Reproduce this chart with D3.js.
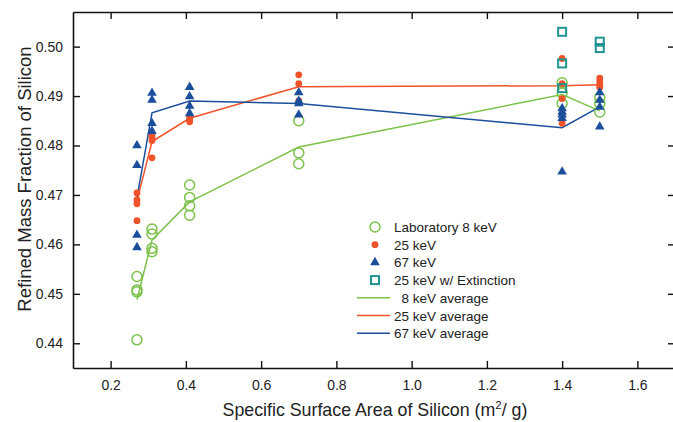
<!DOCTYPE html>
<html>
<head>
<meta charset="utf-8">
<script src="https://cdn.jsdelivr.net/npm/d3@7"></script>
<style>
  body { margin: 0; background: #fff; }
  svg { display: block; font-family: "Liberation Sans", Arial, sans-serif; }
</style>
</head>
<body>
<div id="chart"></div>
<script>
// surface areas (m2/g) of the sample groups
const areas = [0.27, 0.31, 0.41, 0.70, 1.40, 1.50];

// refined values at each area
const lab8 = [
    [0.4535, 0.4508, 0.4504, 0.4407],
    [0.4631, 0.4621, 0.4592, 0.4585],
    [0.4720, 0.4695, 0.4678, 0.4659],
    [0.4850, 0.4785, 0.4763],
    [0.4927, 0.4906, 0.4885],
    [0.4897, 0.4885, 0.4868]
];
const kev25 = [
    [0.4704, 0.4690, 0.4682, 0.4648],
    [0.4820, 0.4815, 0.4810, 0.4775],
    [0.4858, 0.4853, 0.4848],
    [0.4943, 0.4925, 0.4890],
    [0.4976, 0.4925, 0.4895, 0.4845],
    [0.4936, 0.4929, 0.4922, 0.4918]
];
const kev67 = [
    [0.4800, 0.4760, 0.4619, 0.4594],
    [0.4906, 0.4892, 0.4845, 0.4829],
    [0.4918, 0.4899, 0.4880, 0.4865],
    [0.4907, 0.4890, 0.4885, 0.4862],
    [0.4875, 0.4868, 0.4862, 0.4855, 0.4747],
    [0.4907, 0.4892, 0.4878, 0.4838]
];
const ext25 = [
    [], [], [], [],
    [0.5030, 0.4966, 0.4916],
    [0.5010, 0.4997]
];

const avg8 = [0.4488, 0.4609, 0.4686, 0.4797, 0.4903, 0.4870];
const avg25 = [0.4688, 0.4808, 0.4855, 0.4919, 0.4921, 0.4923];
const avg67 = [0.4694, 0.4866, 0.4890, 0.4885, 0.4836, 0.4878];

const xTicks = [0.2, 0.4, 0.6, 0.8, 1.0, 1.2, 1.4, 1.6];
const yTicks = [0.44, 0.45, 0.46, 0.47, 0.48, 0.49, 0.50];

const green = '#7cc24a', red = '#f0522a', blue = '#1b4f9c', teal = '#1f9490';

function flatten(groups) {
    const out = [];
    groups.forEach((g, i) => g.forEach(v => out.push({ x: areas[i], y: v })));
    return out;
}

const width = 673, height = 422;
const margin = { top: 12, right: -2, bottom: 54, left: 73 };

const svg = d3.select('#chart').append('svg')
    .attr('width', width)
    .attr('height', height);

const x = d3.scaleLinear().domain([0.1, 1.7]).range([margin.left, width - margin.right]);
const y = d3.scaleLinear().domain([0.435, 0.507]).range([height - margin.bottom, margin.top]);

// axes with inward ticks on all four sides
const tickFmtX = d3.format('.1f'), tickFmtY = d3.format('.2f');
svg.append('g')
    .attr('transform', `translate(0,${y.range()[0]})`)
    .call(d3.axisBottom(x).tickValues(xTicks).tickSizeInner(-7).tickSizeOuter(0).tickPadding(12).tickFormat(tickFmtX));
svg.append('g')
    .attr('transform', `translate(0,${y.range()[1]})`)
    .call(d3.axisTop(x).tickValues(xTicks).tickSizeInner(-7).tickSizeOuter(0).tickFormat(''));
svg.append('g')
    .attr('transform', `translate(${x.range()[0]},0)`)
    .call(d3.axisLeft(y).tickValues(yTicks).tickSizeInner(-7).tickSizeOuter(0).tickPadding(10).tickFormat(tickFmtY));
svg.append('g')
    .attr('transform', `translate(${x.range()[1]},0)`)
    .call(d3.axisRight(y).tickValues(yTicks).tickSizeInner(-7).tickSizeOuter(0).tickFormat(''));

svg.selectAll('.domain').attr('stroke', '#111').attr('stroke-width', 1.6);
svg.selectAll('.tick line').attr('stroke', '#111').attr('stroke-width', 1.4);
svg.selectAll('.tick text').attr('font-size', 14).attr('fill', '#222')
    .attr('font-family', '"Liberation Sans", Arial, sans-serif');

// average lines
const line = d3.line().x((d, i) => x(areas[i])).y(d => y(d));
[[avg8, green], [avg25, red], [avg67, blue]].forEach(([vals, c]) => {
    svg.append('path').datum(vals)
        .attr('fill', 'none').attr('stroke', c).attr('stroke-width', 1.5)
        .attr('d', line);
});

// markers
svg.append('g').selectAll('circle').data(flatten(lab8)).join('circle')
    .attr('cx', d => x(d.x)).attr('cy', d => y(d.y)).attr('r', 5)
    .attr('fill', 'none').attr('stroke', green).attr('stroke-width', 1.5);

svg.append('g').selectAll('circle').data(flatten(kev25)).join('circle')
    .attr('cx', d => x(d.x)).attr('cy', d => y(d.y)).attr('r', 3.4)
    .attr('fill', red);

const tri = d3.symbol().type(d3.symbolTriangle).size(40);
svg.append('g').selectAll('path').data(flatten(kev67)).join('path')
    .attr('transform', d => `translate(${x(d.x)},${y(d.y)})`)
    .attr('d', tri).attr('fill', blue);

svg.append('g').selectAll('rect').data(flatten(ext25)).join('rect')
    .attr('x', d => x(d.x) - 4).attr('y', d => y(d.y) - 4)
    .attr('width', 8).attr('height', 8)
    .attr('fill', 'none').attr('stroke', teal).attr('stroke-width', 2);

// legend
const legend = svg.append('g').attr('transform', 'translate(375,227)');
const rowH = 17.7;
const items = [
    { label: 'Laboratory 8 keV', kind: 'circle' },
    { label: '25 keV', kind: 'dot' },
    { label: '67 keV', kind: 'tri' },
    { label: '25 keV w/ Extinction', kind: 'square' },
    { label: '  8 keV average', kind: 'line', color: green },
    { label: '25 keV average', kind: 'line', color: red },
    { label: '67 keV average', kind: 'line', color: blue }
];
items.forEach((it, i) => {
    const g = legend.append('g').attr('transform', `translate(0,${i * rowH})`);
    if (it.kind === 'circle') {
        g.append('circle').attr('r', 5).attr('fill', 'none').attr('stroke', green).attr('stroke-width', 1.5);
    } else if (it.kind === 'dot') {
        g.append('circle').attr('r', 3.4).attr('fill', red);
    } else if (it.kind === 'tri') {
        g.append('path').attr('d', tri).attr('fill', blue);
    } else if (it.kind === 'square') {
        g.append('rect').attr('x', -4).attr('y', -4).attr('width', 8).attr('height', 8)
            .attr('fill', 'none').attr('stroke', teal).attr('stroke-width', 2);
    } else {
        g.append('line').attr('x1', -18).attr('x2', 15).attr('stroke', it.color).attr('stroke-width', 1.5);
    }
    g.append('text').attr('x', 19).attr('y', 5)
        .attr('font-size', 13.5).attr('fill', '#222')
        .attr('xml:space', 'preserve')
        .style('white-space', 'pre')
        .text(it.label);
});

// axis titles
const xt = svg.append('text')
    .attr('x', 375).attr('y', 416)
    .attr('text-anchor', 'middle').attr('font-size', 17.8).attr('fill', '#222');
xt.append('tspan').text('Specific Surface Area of Silicon (m');
xt.append('tspan').attr('font-size', 11.5).attr('dy', -7).text('2');
xt.append('tspan').attr('dy', 7).text('/ g)');

svg.append('text')
    .attr('transform', 'translate(31,179) rotate(-90)')
    .attr('text-anchor', 'middle').attr('font-size', 18.5).attr('fill', '#222')
    .text('Refined Mass Fraction of Silicon');
</script>
</body>
</html>
